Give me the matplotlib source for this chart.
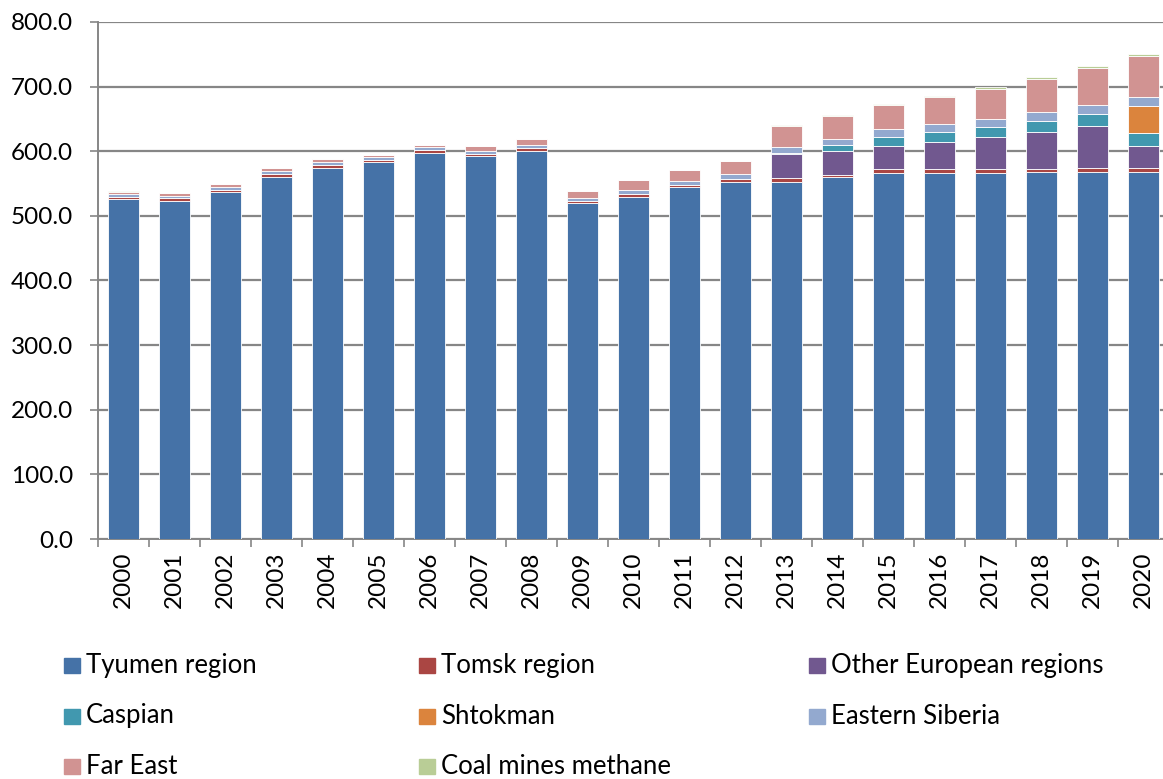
import matplotlib
matplotlib.use("Agg")
import matplotlib.pyplot as plt
from matplotlib.patches import Rectangle
import numpy as np

years = [str(y) for y in range(2000, 2021)]
series_names = ["Tyumen region", "Tomsk region", "Other European regions", "Caspian",
                "Shtokman", "Eastern Siberia", "Far East", "Coal mines methane"]
tyumen = [526, 523, 536.4, 560, 574.5, 583.8, 597, 592, 601, 519.4, 529.7, 544, 552.8,
          552, 559.6, 566, 567, 567, 568, 568.4, 568.4]
tomsk = [3.7, 4, 3.6, 5, 4.5, 3.2, 5, 3.7, 4.5, 4.1, 4.3, 3.7, 4.2,
         6, 4.4, 6, 5, 5.5, 5, 5.6, 5.6]
other_eu = [0, 0, 0, 0, 0, 0, 0, 0, 0, 0, 0, 0, 0.3,
            38, 37, 36.5, 43, 49, 57, 65.5, 34.5]
caspian = [0, 0, 0, 0, 0, 0, 0, 0, 0, 0, 0, 0, 0,
           1.5, 8, 14, 15, 16.5, 17, 18.5, 19.5]
shtokman = [0] * 20 + [42]
e_siberia = [4.6, 4, 5, 5, 4, 4, 4, 4.3, 4.1, 4.5, 5.5, 6.3, 8,
             9, 10, 11.5, 11.6, 12, 13.7, 13.5, 14]
far_east = [3.3, 4.4, 3.8, 4, 4.5, 3.6, 3.6, 8, 9.4, 10.5, 16, 17.4, 19.5,
            33, 36, 37.5, 41.8, 47, 51.3, 57.5, 64]
coal = [0.3] * 12 + [0.5, 1, 1, 1.5, 2, 2, 3, 3, 2.5]
yticks = [0, 100, 200, 300, 400, 500, 600, 700, 800]

colors = ["#4572A7", "#AA4643", "#71588F", "#4198AF", "#DB843D", "#93A9CF", "#D19392", "#B9CD96"]
data = [tyumen, tomsk, other_eu, caspian, shtokman, e_siberia, far_east, coal]

plt.rcParams['font.family'] = ['Lato', 'DejaVu Sans']

W, H = 1163, 779
fig = plt.figure(figsize=(W / 100, H / 100), dpi=100)
ax = fig.add_axes([98 / W, (H - 539) / H, 1071 / W, (539 - 22) / H])

x = np.arange(len(years))
bottom = np.zeros(len(years))
for vals, col, name in zip(data, colors, series_names):
    v = np.array(vals, dtype=float)
    ax.bar(x, v, 0.6, bottom=bottom, color=col, edgecolor="white", linewidth=0.6,
           label=name, zorder=3)
    bottom += v

ax.set_xlim(-0.5, len(years) - 0.5)
ax.set_ylim(0, 800)
ax.set_yticks(yticks)
ax.set_yticklabels([f"{t:.1f}" for t in yticks], fontsize=17.5)
ax.set_xticks(x)
ax.set_xticklabels(years, rotation=90, fontsize=17.5)
ax.set_xticks(np.arange(-0.5, len(years)), minor=True)
ax.tick_params(axis='x', which='major', length=0, pad=9)
ax.tick_params(axis='x', which='minor', length=6, color="#868686", width=1.2)
ax.tick_params(axis='y', length=6, color="#868686", width=1.2, pad=12)
ax.grid(axis='y', color="#868686", linewidth=1.6, zorder=0)
ax.set_axisbelow(True)
for s in ['top', 'right']:
    ax.spines[s].set_visible(False)
for s in ['left', 'bottom']:
    ax.spines[s].set_color("#868686")
    ax.spines[s].set_linewidth(1.4)

# legend laid out as in the reference (row-wise, 3 columns)
col_x = [64, 419, 809]
row_y = [665, 716, 766.5]
for i, (name, col) in enumerate(zip(series_names, colors)):
    r, c = divmod(i, 3)
    px, py = col_x[c], row_y[r]
    fig.patches.append(Rectangle((px / W, (H - py - 7.5) / H), 16 / W, 15 / H,
                                 transform=fig.transFigure, color=col))
    fig.text((px + 22) / W, (H - py) / H, name, fontsize=18.5, va='center', ha='left')

fig.savefig("out.png", dpi=100)
